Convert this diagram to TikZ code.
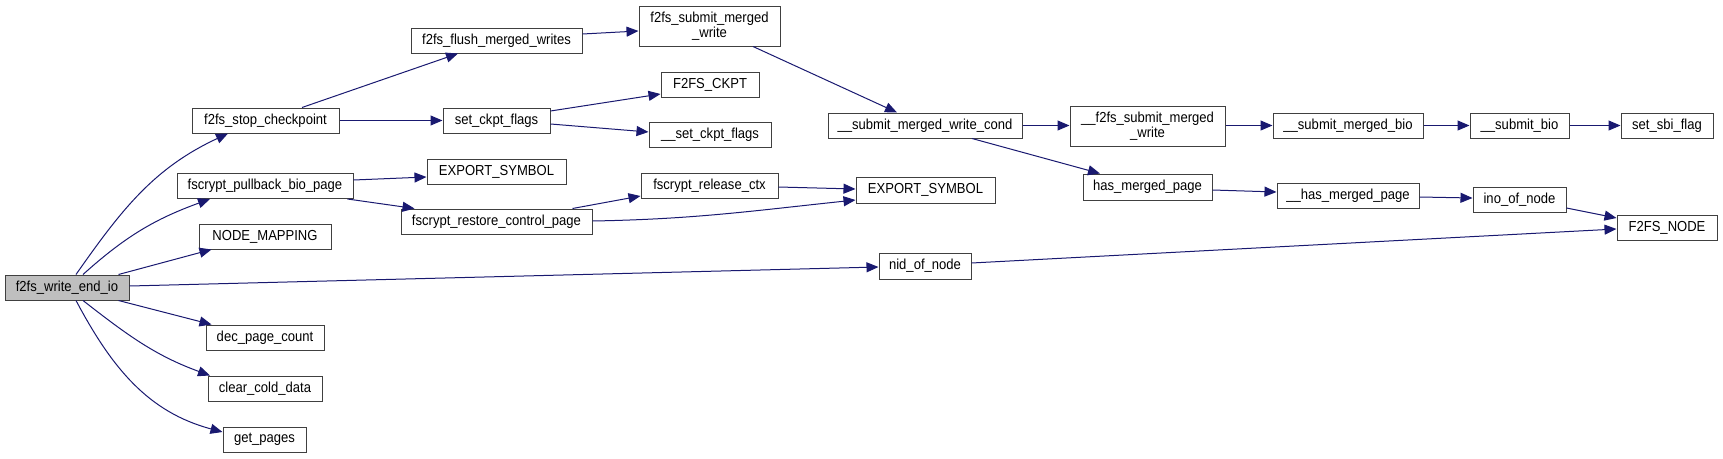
\documentclass[tikz,border=0pt]{standalone}
\usepackage{fontspec}
\setmainfont{Liberation Sans}[FakeStretch=0.9]
\usetikzlibrary{arrows.meta}
\definecolor{edgeblue}{HTML}{191970}
\definecolor{rootgray}{HTML}{BFBFBF}

\begin{document}
\begin{tikzpicture}[x=1pt,y=1pt,>={Triangle[length=12pt,width=10pt]},
  fn/.style={draw=black!75,line width=1pt,fill=white,inner sep=0pt,
    minimum height=25pt,align=center,font=\fontsize{14.5}{15}\selectfont},
  call/.style={->,draw=edgeblue,line width=1pt}]
  \useasboundingbox (0,0) rectangle (1723,-458);

  % functions
  \node[fn,fill=rootgray,minimum width=124pt] (wend) at (67,-287.5) {f2fs\_write\_end\_io};
  \node[fn,minimum width=147pt] (stopck) at (265.5,-120.5) {f2fs\_stop\_checkpoint};
  \node[fn,minimum width=176pt] (pullback) at (265,-186) {fscrypt\_pullback\_bio\_page};
  \node[fn,minimum width=132pt] (nodemap) at (265,-236.5) {NODE\_MAPPING};
  \node[fn,minimum width=118pt] (decpc) at (265,-337.5) {dec\_page\_count};
  \node[fn,minimum width=114pt] (clearcd) at (265,-388.5) {clear\_cold\_data};
  \node[fn,minimum width=83pt] (getpg) at (264.5,-439.5) {get\_pages};
  \node[fn,minimum width=171pt] (flushmw) at (496.5,-40.5) {f2fs\_flush\_merged\_writes};
  \node[fn,minimum width=107pt] (setck) at (496.5,-120.5) {set\_ckpt\_flags};
  \node[fn,minimum width=139pt] (expa) at (496.5,-171.5) {EXPORT\_SYMBOL};
  \node[fn,minimum width=191pt] (restore) at (496.5,-221.5) {fscrypt\_restore\_control\_page};
  \node[fn,minimum width=141pt,minimum height=40pt] (submw) at (709.5,-26) {f2fs\_submit\_merged\\\_write};
  \node[fn,minimum width=98pt] (ckpt) at (710,-84.5) {F2FS\_CKPT};
  \node[fn,minimum width=122pt] (setflags) at (710,-135) {\_\_set\_ckpt\_flags};
  \node[fn,minimum width=137pt] (release) at (709.5,-186) {fscrypt\_release\_ctx};
  \node[fn,minimum width=194pt] (cond) at (925,-125.5) {\_\_submit\_merged\_write\_cond};
  \node[fn,minimum width=139pt,minimum height=26pt] (expb) at (925.5,-190) {EXPORT\_SYMBOL};
  \node[fn,minimum width=92pt,minimum height=26pt] (nid) at (925,-266) {nid\_of\_node};
  \node[fn,minimum width=155pt,minimum height=40pt] (fsubmw) at (1147.5,-126) {\_\_f2fs\_submit\_merged\\\_write};
  \node[fn,minimum width=129pt,minimum height=26pt] (hasmp) at (1147.5,-187) {has\_merged\_page};
  \node[fn,minimum width=150pt] (smbio) at (1348,-125.5) {\_\_submit\_merged\_bio};
  \node[fn,minimum width=142pt] (uhasmp) at (1348,-195.5) {\_\_has\_merged\_page};
  \node[fn,minimum width=99pt] (sbio) at (1519.5,-125.5) {\_\_submit\_bio};
  \node[fn,minimum width=93pt] (ino) at (1519.5,-199.5) {ino\_of\_node};
  \node[fn,minimum width=92pt] (sbiflag) at (1667,-125.5) {set\_sbi\_flag};
  \node[fn,minimum width=100pt] (fsnode) at (1667,-227.5) {F2FS\_NODE};

  % calls from f2fs_write_end_io
  \draw[call] ([xshift=9]wend.north) to[out=55,in=205] ([xshift=-37.5]stopck.south);
  \draw[call] ([xshift=16]wend.north) to[out=42,in=200] ([xshift=-55]pullback.south);
  \draw[call] ([xshift=-11]wend.north east) -- ([xshift=13]nodemap.south west);
  \draw[call] ([yshift=1.5]wend.east) -- ([yshift=-1]nid.west);
  \draw[call] ([xshift=-11]wend.south east) -- ([xshift=6]decpc.north west);
  \draw[call] ([xshift=16]wend.south) to[out=-38,in=160] ([xshift=-55]clearcd.north);
  \draw[call] ([xshift=9]wend.south) to[out=-62,in=165] ([yshift=7.5]getpg.west);

  % second level
  \draw[call] ([xshift=36.5]stopck.north) -- ([xshift=-38.5]flushmw.south);
  \draw[call] (stopck.east) -- (setck.west);
  \draw[call] ([yshift=6.5]flushmw.east) -- ([yshift=-5]submw.west);
  \draw[call] ([yshift=9.5]setck.east) -- ([yshift=-9.5]ckpt.west);
  \draw[call] ([yshift=-3.5]setck.east) -- ([yshift=3]setflags.west);
  \draw[call] ([yshift=6]pullback.east) -- ([yshift=-5.5]expa.west);
  \draw[call] ([xshift=-6]pullback.south east) -- ([xshift=14]restore.north west);
  \draw[call] ([xshift=-20]restore.north east) -- ([yshift=-10]release.west);
  \draw[call] ([yshift=0.5]restore.east) to[out=1,in=186] ([yshift=-10]expb.west);
  \draw[call] ([yshift=-1]release.east) -- ([yshift=1]expb.west);

  % merged write path
  \draw[call] ([xshift=43.5]submw.south) -- ([xshift=-28]cond.north);
  \draw[call] (cond.east) -- ([yshift=0.5]fsubmw.west);
  \draw[call] ([xshift=47]cond.south) -- ([xshift=-47.5]hasmp.north);
  \draw[call] ([yshift=0.5]fsubmw.east) -- (smbio.west);
  \draw[call] (smbio.east) -- (sbio.west);
  \draw[call] (sbio.east) -- (sbiflag.west);
  \draw[call] ([yshift=-3]hasmp.east) -- ([yshift=3.5]uhasmp.west);
  \draw[call] ([yshift=-1.5]uhasmp.east) -- ([yshift=1.5]ino.west);
  \draw[call] ([yshift=-8.5]ino.east) -- ([yshift=9.5]fsnode.west);
  \draw[call] ([yshift=3]nid.east) -- ([yshift=-1.5]fsnode.west);
\end{tikzpicture}
\end{document}
